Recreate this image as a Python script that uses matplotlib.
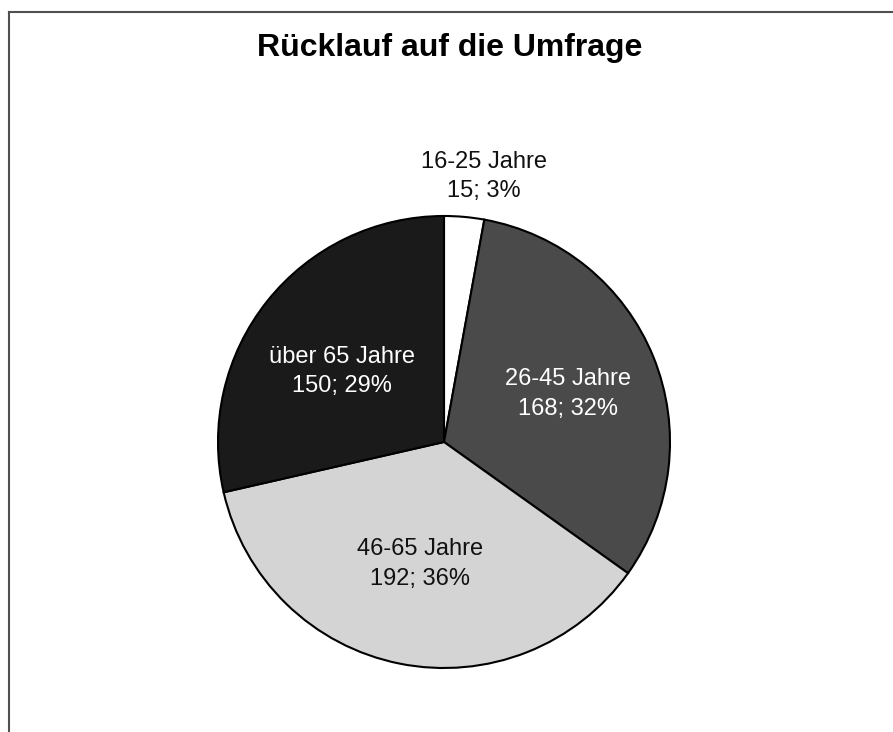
import numpy as np
import matplotlib.pyplot as plt
from matplotlib.lines import Line2D

# Rücklauf je Altersgruppe
groups = ['16-25 Jahre', '26-45 Jahre', '46-65 Jahre', 'über 65 Jahre']
counts = [15, 168, 192, 150]
pct_labels = ['3%', '32%', '36%', '29%']

colors = ['#ffffff', '#4a4a4a', '#d4d4d4', '#1a1a1a']
text_colors = ['#111111', '#ffffff', '#111111', '#ffffff']
label_r = [1.18, 0.59, 0.55, 0.58]
# small nudges (in axes units) to match the original label placement
nudge_x = [0.07, 0.0, 0.0, 0.0]
nudge_y = [0.0, -0.01, 0.0, -0.05]

plt.rcParams['font.family'] = ['Liberation Sans', 'DejaVu Sans']

fig = plt.figure(figsize=(8.93, 7.32), dpi=100)
W, H = 893, 732

# pie center ~ (444, 442) px, radius ~ 226 px
cx, cy, r = 444, 442, 226
ax = fig.add_axes([(cx - r) / W, (H - cy - r) / H, 2 * r / W, 2 * r / H])

wedges, _ = ax.pie(counts, colors=colors, startangle=90, counterclock=False,
                   wedgeprops=dict(edgecolor='black', linewidth=1.5))
ax.set_xlim(-1, 1)
ax.set_ylim(-1, 1)
ax.set_aspect('equal')

total = sum(counts)
cum = 0
for i, c in enumerate(counts):
    mid = (cum + c / 2) / total * 2 * np.pi
    cum += c
    x = label_r[i] * np.sin(mid) + nudge_x[i]
    y = label_r[i] * np.cos(mid) + nudge_y[i]
    ax.text(x, y, groups[i] + '\n' + str(c) + '; ' + pct_labels[i],
            ha='center', va='center', fontsize=17, color=text_colors[i],
            linespacing=1.45)

fig.text(0.504, 1 - 48 / H, 'Rücklauf auf die Umfrage', ha='center', va='center',
         fontsize=23, fontweight='bold',
         family=['Liberation Sans Narrow', 'Liberation Sans', 'DejaVu Sans'])

# frame lines (top and left only)
fig.add_artist(Line2D([9 / W, 1], [1 - 12 / H, 1 - 12 / H], color='#505050', lw=1.5))
fig.add_artist(Line2D([9 / W, 9 / W], [0, 1 - 12 / H], color='#505050', lw=1.5))

fig.savefig('out.png', dpi=100)
